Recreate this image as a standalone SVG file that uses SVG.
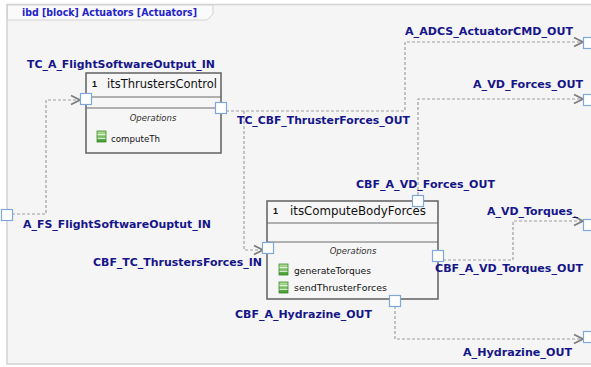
<svg xmlns="http://www.w3.org/2000/svg" width="591" height="367" viewBox="0 0 591 367">
  <style>
    .frame { fill: #f5f5f5; stroke: #d2d2d2; stroke-width: 1.5; }
    .tab { fill: #fafafa; stroke: #d2d2d2; stroke-width: 1; }
    .title { font-family: "DejaVu Sans", "Liberation Sans", sans-serif; font-weight: bold; font-size: 11px; fill: #2323c8; }
    .block { fill: #f6f6f6; stroke: #6a6a6a; stroke-width: 1.6; }
    .div { stroke: #6a6a6a; stroke-width: 1.2; }
    .mult { font-family: "Liberation Sans", Arial, sans-serif; font-weight: bold; font-size: 9px; fill: #111; }
    .name { font-family: "DejaVu Sans", "Liberation Sans", sans-serif; font-size: 12px; fill: #111; }
    .ops { font-family: "DejaVu Sans", "Liberation Sans", sans-serif; font-style: italic; font-size: 8.5px; fill: #333; }
    .op { font-family: "DejaVu Sans", "Liberation Sans", sans-serif; font-size: 9.5px; fill: #111; }
    .port { fill: #ffffff; stroke: #7ea8d8; stroke-width: 1.2; }
    .lbl { font-family: "DejaVu Sans", "Liberation Sans", sans-serif; font-weight: bold; font-size: 11px; fill: #16168a; }
    .link { fill: none; stroke: #a0a0a0; stroke-width: 1.2; stroke-dasharray: 3 2; marker-end: url(#open); }
  </style>
  <defs>
    <marker id="open" markerUnits="userSpaceOnUse" markerWidth="12" markerHeight="12" refX="10" refY="5" orient="auto" viewBox="0 0 12 10">
      <path d="M1,0.5 L10,5 L1,9.5" fill="none" stroke="#7c7c7c" stroke-width="1.8"/>
    </marker>
    <linearGradient id="opIcon" x1="0" y1="0" x2="0" y2="1">
      <stop offset="0" stop-color="#b8e0a0"/>
      <stop offset="1" stop-color="#3f9a2c"/>
    </linearGradient>
    <g id="opGlyph">
      <rect x="0" y="0" width="9" height="11" fill="url(#opIcon)" stroke="#3c8a2a" stroke-width="0.8"/>
      <line x1="0.5" y1="3.7" x2="8.5" y2="3.7" stroke="#ffffff" stroke-width="0.9"/>
      <line x1="0.5" y1="7.3" x2="8.5" y2="7.3" stroke="#ffffff" stroke-width="0.9"/>
    </g>
  </defs>

  <rect x="0" y="0" width="591" height="367" fill="#ffffff"/>

  <!-- diagram frame -->
  <g id="frame">
    <rect class="frame" x="7" y="4.5" width="600" height="359.5"/>
    <path class="tab" d="M7.5,5 H213 V14 L207,20 H7.5 Z"/>
    <text class="title" x="22" y="16" textLength="175" lengthAdjust="spacingAndGlyphs">ibd [block] Actuators [Actuators]</text>
  </g>

  <!-- connectors -->
  <g id="connectors">
    <path class="link" d="M12,214 H46 V100 H80"/>
    <path class="link" d="M226,111 H405 V42 H583"/>
    <path class="link" d="M244,111 V250 H263"/>
    <path class="link" d="M418,195 V99 H583"/>
    <path class="link" d="M443,260 H513 V221 H583"/>
    <path class="link" d="M395,306 V339 H583"/>
  </g>

  <!-- block itsThrustersControl -->
  <g id="itsThrustersControl">
    <rect class="block" x="86" y="73" width="135" height="80"/>
    <line class="div" x1="86" y1="97" x2="221" y2="97"/>
    <line class="div" x1="86" y1="108" x2="221" y2="108"/>
    <text class="mult" x="92" y="87">1</text>
    <text class="name" x="107" y="88" textLength="110" lengthAdjust="spacingAndGlyphs">itsThrustersControl</text>
    <text class="ops" x="153" y="121" text-anchor="middle">Operations</text>
    <use href="#opGlyph" x="97" y="131"/>
    <text class="op" x="111" y="142" textLength="49" lengthAdjust="spacingAndGlyphs">computeTh</text>
    <rect class="port" x="80.5" y="93.5" width="11" height="11"/>
    <rect class="port" x="215.5" y="102.5" width="11" height="11"/>
  </g>

  <!-- block itsComputeBodyForces -->
  <g id="itsComputeBodyForces">
    <rect class="block" x="267" y="201" width="171" height="98"/>
    <line class="div" x1="267" y1="223" x2="438" y2="223"/>
    <line class="div" x1="267" y1="242" x2="438" y2="242"/>
    <text class="mult" x="273" y="214">1</text>
    <text class="name" x="290" y="215" textLength="136" lengthAdjust="spacingAndGlyphs">itsComputeBodyForces</text>
    <text class="ops" x="353" y="254" text-anchor="middle">Operations</text>
    <use href="#opGlyph" x="279" y="264"/>
    <text class="op" x="294" y="274" textLength="77" lengthAdjust="spacingAndGlyphs">generateTorques</text>
    <use href="#opGlyph" x="279" y="282"/>
    <text class="op" x="294" y="291" textLength="93" lengthAdjust="spacingAndGlyphs">sendThrusterForces</text>
    <rect class="port" x="262.5" y="242.5" width="11" height="11"/>
    <rect class="port" x="412.5" y="195.5" width="11" height="11"/>
    <rect class="port" x="432.5" y="250.5" width="11" height="11"/>
    <rect class="port" x="389.5" y="295.5" width="11" height="11"/>
  </g>

  <!-- boundary ports of the frame -->
  <g id="boundaryPorts">
    <rect class="port" x="1.5" y="209.5" width="11" height="11"/>
    <rect class="port" x="583.5" y="37.5" width="11" height="11"/>
    <rect class="port" x="583.5" y="94.5" width="11" height="11"/>
    <rect class="port" x="583.5" y="219.5" width="11" height="11"/>
    <rect class="port" x="583.5" y="331.5" width="11" height="11"/>
  </g>

  <!-- port names -->
  <g id="portLabels">
    <text class="lbl" x="27" y="68" textLength="188" lengthAdjust="spacingAndGlyphs">TC_A_FlightSoftwareOutput_IN</text>
    <text class="lbl" x="23" y="228" textLength="188" lengthAdjust="spacingAndGlyphs">A_FS_FlightSoftwareOuptut_IN</text>
    <text class="lbl" x="237" y="124" textLength="173" lengthAdjust="spacingAndGlyphs">TC_CBF_ThrusterForces_OUT</text>
    <text class="lbl" x="356" y="188" textLength="139" lengthAdjust="spacingAndGlyphs">CBF_A_VD_Forces_OUT</text>
    <text class="lbl" x="93" y="266" textLength="169" lengthAdjust="spacingAndGlyphs">CBF_TC_ThrustersForces_IN</text>
    <text class="lbl" x="435" y="272" textLength="148" lengthAdjust="spacingAndGlyphs">CBF_A_VD_Torques_OUT</text>
    <text class="lbl" x="235" y="318" textLength="137" lengthAdjust="spacingAndGlyphs">CBF_A_Hydrazine_OUT</text>
    <text class="lbl" x="405" y="35" textLength="168" lengthAdjust="spacingAndGlyphs">A_ADCS_ActuatorCMD_OUT</text>
    <text class="lbl" x="473" y="88" textLength="110" lengthAdjust="spacingAndGlyphs">A_VD_Forces_OUT</text>
    <text class="lbl" x="487" y="215" textLength="91" lengthAdjust="spacingAndGlyphs">A_VD_Torques_</text>
    <text class="lbl" x="463" y="356" textLength="109" lengthAdjust="spacingAndGlyphs">A_Hydrazine_OUT</text>
  </g>
</svg>
